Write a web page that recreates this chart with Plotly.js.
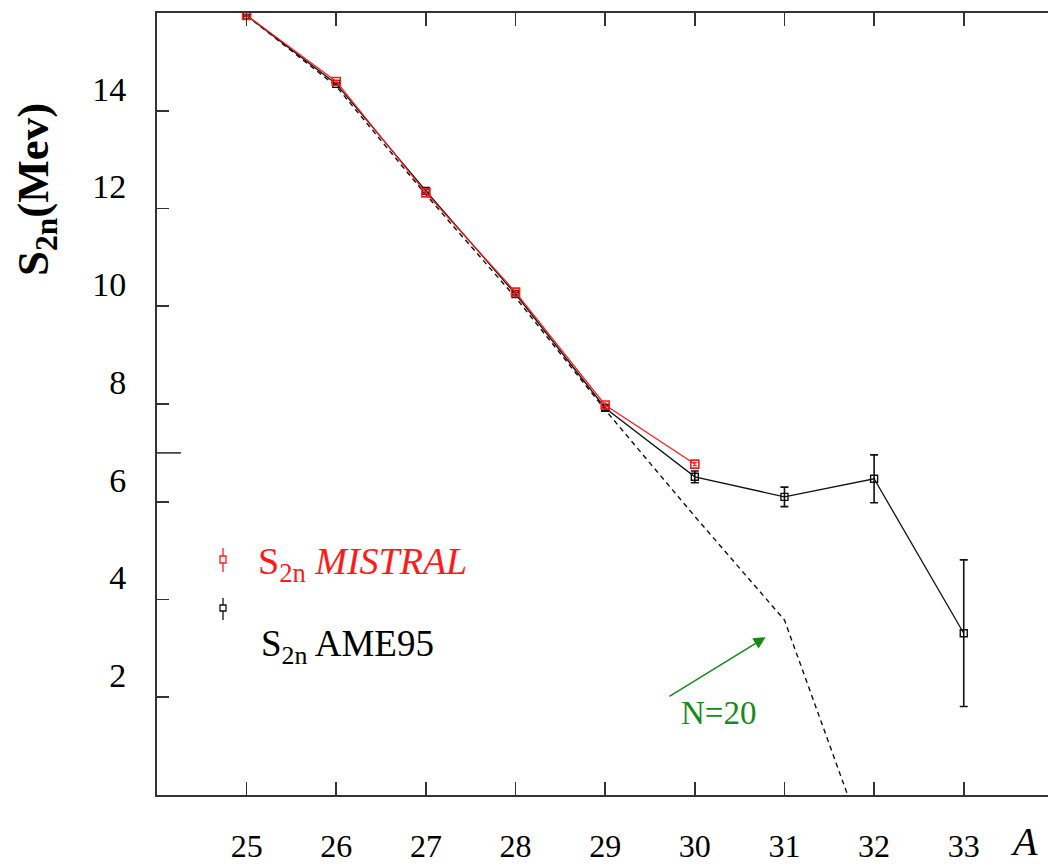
<!DOCTYPE html>
<html>
<head>
<meta charset="utf-8">
<script src="https://cdn.plot.ly/plotly-3.0.1.min.js"></script>
<style>html,body{margin:0;padding:0;background:#fff;}#chart{width:1048px;height:866px;}</style>
</head>
<body>
<div id="chart"></div>
<script>
// Mass number A
const xTicks = [25, 26, 27, 28, 29, 30, 31, 32, 33];
const yTicks = [2, 4, 6, 8, 10, 12, 14];

// S2n MISTRAL (red)
const mistralA = [25, 26, 27, 28, 29, 30];
const mistralS2n = [15.95, 14.6, 12.32, 10.29, 7.98, 6.77];
const mistralErr = [0.02, 0.02, 0.02, 0.02, 0.04, 0.03];

// S2n AME95 (black)
const ameA = [25, 26, 27, 28, 29, 30, 31, 32, 33];
const ameS2n = [15.95, 14.55, 12.36, 10.25, 7.92, 6.51, 6.10, 6.47, 3.31];
const ameErr = [0.02, 0.02, 0.03, 0.03, 0.06, 0.12, 0.20, 0.49, 1.50];

// dashed prediction curve
const predA = [25, 26, 27, 28, 29, 30, 31, 32];
const predS2n = [15.95, 14.5, 12.28, 10.18, 7.88, 5.70, 3.58, -1.5];

const serif = '"Liberation Serif", "Times New Roman", serif';
const green = '#178a17';

const px = v => (v - 157) / 891;
const py = v => (795 - v) / 782;

const traces = [
  {x: predA, y: predS2n, mode: 'lines', line: {color: '#111', width: 1.4, dash: '5px,4px'}, showlegend: false, hoverinfo: 'skip'},
  {x: ameA, y: ameS2n, mode: 'lines+markers', name: 'AME95',
   line: {color: '#111', width: 1.3},
   marker: {symbol: 'square-open', size: 7, color: '#111', line: {width: 1.4}},
   error_y: {type: 'data', array: ameErr, visible: true, color: '#111', thickness: 1.6, width: 4},
   showlegend: false},
  {x: mistralA, y: mistralS2n, mode: 'lines+markers', name: 'MISTRAL',
   line: {color: '#ff1a1a', width: 1.2},
   marker: {symbol: 'square-open', size: 8, color: '#ff1a1a', line: {width: 1.6}},
   error_y: {type: 'data', array: mistralErr, visible: true, color: '#ff1a1a', thickness: 1.2, width: 2},
   showlegend: false}
];

const layout = {
  width: 1048, height: 866,
  margin: {l: 157, r: 0, t: 13, b: 71},
  paper_bgcolor: '#fff', plot_bgcolor: '#fff',
  showlegend: false,
  xaxis: {
    range: [24.0, 33.94], tickmode: 'array', tickvals: xTicks, ticktext: xTicks.map(String),
    ticks: 'inside', ticklen: 13, tickwidth: 1.6, tickcolor: '#333',
    showline: true, linecolor: '#333', linewidth: 2, mirror: 'ticks',
    showgrid: false, zeroline: false,
    tickfont: {family: serif, size: 32, color: '#000'},
    ticklabelstandoff: 22
  },
  yaxis: {
    range: [0, 16], tickmode: 'array', tickvals: yTicks, ticktext: yTicks.map(String),
    ticks: 'inside', ticklen: 12, tickwidth: 1.6, tickcolor: '#333',
    showline: true, linecolor: '#333', linewidth: 2, mirror: false,
    showgrid: false, zeroline: false,
    tickfont: {family: serif, size: 34, color: '#000'},
    ticklabelshift: -22, ticklabelstandoff: 22
  },
  shapes: [
    {type: 'line', xref: 'paper', yref: 'y', x0: px(156), x1: px(181), y0: 7, y1: 7, line: {color: '#333', width: 1.6}},
    // legend glyphs
    {type: 'line', xref: 'paper', yref: 'paper', x0: px(223), x1: px(223), y0: py(572), y1: py(548), line: {color: '#ff1a1a', width: 1.3}},
    {type: 'rect', xref: 'paper', yref: 'paper', x0: px(220), x1: px(226), y0: py(563), y1: py(556), line: {color: '#ff1a1a', width: 1.3}, fillcolor: '#fff'},
    {type: 'line', xref: 'paper', yref: 'paper', x0: px(223), x1: px(223), y0: py(620), y1: py(598), line: {color: '#111', width: 1.3}},
    {type: 'rect', xref: 'paper', yref: 'paper', x0: px(220), x1: px(226), y0: py(611), y1: py(605), line: {color: '#111', width: 1.3}, fillcolor: '#fff'}
  ],
  annotations: [
    {text: '<b>S<sub>2n</sub>(Mev)</b>', xref: 'paper', yref: 'paper', x: px(36), y: py(190), textangle: -90,
     showarrow: false, font: {family: serif, size: 45, color: '#000'}, xanchor: 'center', yanchor: 'middle'},
    {text: '<i>A</i>', xref: 'paper', yref: 'paper', x: px(1024), y: py(841), showarrow: false,
     font: {family: serif, size: 40, color: '#000'}, xanchor: 'center', yanchor: 'middle'},
    {text: 'S<sub>2n</sub> <i>MISTRAL</i>', xref: 'paper', yref: 'paper', x: px(256), y: py(564), showarrow: false,
     font: {family: serif, size: 38, color: '#ff1a1a'}, xanchor: 'left', yanchor: 'middle'},
    {text: 'S<sub>2n</sub> AME95', xref: 'paper', yref: 'paper', x: px(259), y: py(646), showarrow: false,
     font: {family: serif, size: 37, color: '#000'}, xanchor: 'left', yanchor: 'middle'},
    {text: 'N=20', xref: 'paper', yref: 'paper', x: px(718), y: py(713), showarrow: false,
     font: {family: serif, size: 33, color: green}, xanchor: 'center', yanchor: 'middle'},
    {text: '', xref: 'x', yref: 'y', axref: 'x', ayref: 'y', x: 30.79, y: 3.23, ax: 29.70, ay: 2.0,
     showarrow: true, arrowhead: 2, arrowsize: 1.6, arrowwidth: 1.5, arrowcolor: green}
  ]
};

Plotly.newPlot('chart', traces, layout, {staticPlot: true, displayModeBar: false});
</script>
</body>
</html>
